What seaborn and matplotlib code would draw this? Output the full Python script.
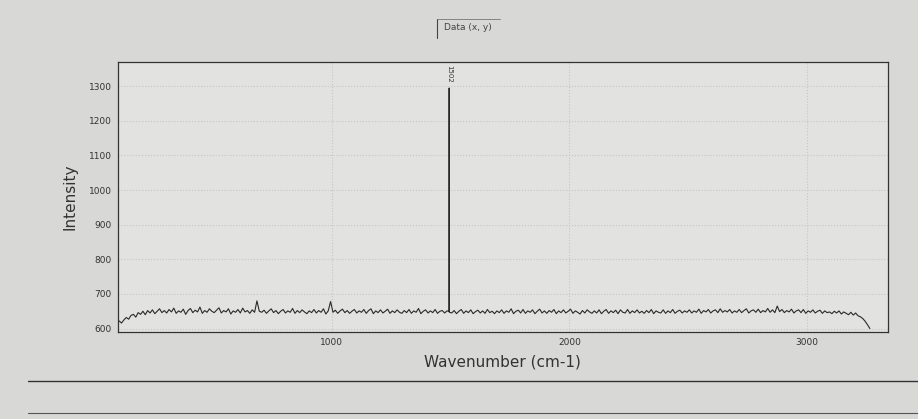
import numpy as np
import pandas as pd
import matplotlib.pyplot as plt
import seaborn as sns
from matplotlib.lines import Line2D

# ---- data ----
start_wavenumber = 105
step_wavenumber = 10
intensity = [
    622, 616, 625, 632, 627, 638, 641, 633, 646, 641, 650, 640, 652, 645, 654, 643, 650, 657, 646, 652,
    645, 655, 648, 659, 644, 651, 647, 656, 641, 652, 658, 646, 653, 648, 662, 644, 652, 647, 657, 650,
    646, 653, 660, 645, 652, 648, 657, 642, 651, 647, 655, 645, 659, 648, 652, 644, 654, 647, 680, 650,
    647, 653, 644, 651, 657, 646, 652, 643, 650, 655, 645, 651, 647, 658, 644, 652, 646, 654, 648, 643,
    651, 646, 655, 645, 652, 647, 657, 642, 651, 678, 647, 653, 644, 651, 656, 646, 652, 644, 650, 655,
    645, 651, 647, 655, 644, 652, 657, 643, 651, 646, 654, 645, 650, 656, 644, 651, 646, 654, 647, 644,
    652, 646, 655, 644, 651, 647, 658, 643, 650, 654, 645, 651, 646, 655, 644, 650, 652, 645, 651, 647,
    645, 652, 643, 650, 655, 644, 651, 646, 654, 643, 649, 653, 645, 651, 644, 655, 646, 650, 643, 651,
    646, 654, 644, 651, 647, 657, 643, 650, 653, 645, 655, 644, 651, 647, 654, 643, 650, 656, 645, 651,
    644, 652, 647, 655, 643, 651, 646, 654, 645, 650, 656, 644, 651, 647, 642, 652, 645, 654, 648, 644,
    651, 645, 654, 643, 650, 655, 644, 651, 646, 653, 643, 654, 647, 645, 655, 644, 651, 646, 654, 645,
    650, 644, 652, 646, 655, 643, 651, 647, 645, 654, 644, 651, 646, 655, 644, 650, 653, 645, 651, 647,
    654, 645, 651, 647, 656, 644, 652, 648, 655, 645, 651, 654, 646, 657, 647, 652, 648, 655, 645, 651,
    647, 655, 646, 652, 657, 645, 651, 654, 647, 656, 646, 652, 648, 658, 647, 654, 646, 665, 649, 655,
    646, 652, 648, 656, 645, 651, 654, 646, 655, 644, 651, 647, 654, 645, 650, 653, 644, 651, 646, 648,
    643, 650, 645, 651, 642, 648, 644, 640, 647, 639, 645, 637, 634, 629, 621, 611, 600,
]
peak_wavenumber = [1493.5, 1494, 1494.5]
peak_intensity = [650, 1295, 648]
peak_label = "1502"
x_ticks = [1000, 2000, 3000]
y_ticks = [600, 700, 800, 900, 1000, 1100, 1200, 1300]

wn = start_wavenumber + step_wavenumber * np.arange(len(intensity))
df = pd.DataFrame({"Wavenumber": np.concatenate([wn, peak_wavenumber]),
                   "Intensity": np.concatenate([intensity, peak_intensity])})
df = df.sort_values("Wavenumber").reset_index(drop=True)

sns.set_style("white")
plt.rcParams['font.family'] = ['DejaVu Sans']

fig = plt.figure(figsize=(9.18, 4.19), dpi=100, facecolor='#d8d8d6')
ax = fig.add_axes([0.1285, 0.2076, 0.8385, 0.6444])
ax.set_facecolor('#e2e2e0')

sns.lineplot(data=df, x="Wavenumber", y="Intensity", ax=ax, color='#2a2a2a',
             linewidth=0.8, estimator=None, sort=True)

ax.set_xlim(100, 3340)
ax.set_ylim(590, 1370)
ax.set_xticks(x_ticks)
ax.set_xticks([500, 1500, 2500], minor=True)
ax.set_yticks(y_ticks)
ax.set_yticks([650, 750, 850, 950, 1050, 1150, 1250, 1350], minor=True)
ax.tick_params(axis='both', which='major', direction='inout', length=5, width=0.8,
               labelsize=6.5, colors='#333333', pad=2)
ax.tick_params(axis='both', which='minor', direction='inout', length=3, width=0.7,
               colors='#333333')
ax.grid(True, which='major', linestyle=':', color='#c6c6c4', linewidth=0.8)
for s in ax.spines.values():
    s.set_color('#333333')
    s.set_linewidth(0.9)

ax.set_xlabel("Wavenumber (cm-1)", fontsize=11, color='#333333', labelpad=5)
ax.set_ylabel("Intensity", fontsize=11, color='#333333', labelpad=8)

ax.text(peak_wavenumber[1], 1310, peak_label, rotation=-90, fontsize=5,
        ha='center', va='bottom', color='#333333')

# header
fig.text(0.5095, 0.935, "Data (x, y)", fontsize=6.5, ha='center', va='center', color='#444444')
fig.add_artist(Line2D([0.476, 0.476], [0.91, 0.955], color='#444444', lw=0.8))
fig.add_artist(Line2D([0.476, 0.545], [0.955, 0.955], color='#777777', lw=0.6))
# bottom rule lines on the printout
fig.add_artist(Line2D([0.03, 1.0], [0.09, 0.09], color='#333333', lw=1.0))
fig.add_artist(Line2D([0.03, 1.0], [0.015, 0.015], color='#555555', lw=0.8))

fig.savefig("out.png", dpi=100, facecolor=fig.get_facecolor())
